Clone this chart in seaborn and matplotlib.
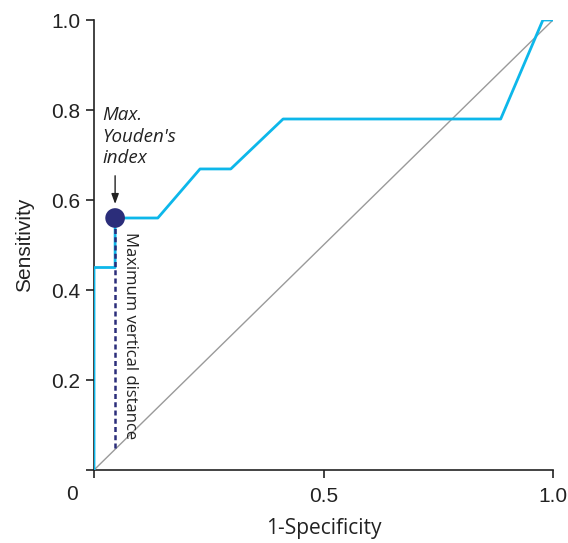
import matplotlib
matplotlib.use("Agg")
import matplotlib.pyplot as plt
import seaborn as sns
import pandas as pd

fpr = [0.0, 0.0, 0.046, 0.046, 0.139, 0.231, 0.298, 0.412, 0.886, 0.978, 1.0]
tpr = [0.0, 0.45, 0.45, 0.56, 0.56, 0.669, 0.669, 0.78, 0.78, 1.0, 1.0]
diag_x = [0.0, 1.0]
diag_y = [0.0, 1.0]
youden_x = [0.046]
youden_y = [0.56]
vdist_x = [0.046, 0.046]
vdist_y = [0.049, 0.56]
x_ticks = [0, 0.5, 1.0]
x_ticklabels = ["", "0.5", "1.0"]
y_ticks = [0, 0.2, 0.4, 0.6, 0.8, 1.0]
y_ticklabels = ["", "0.2", "0.4", "0.6", "0.8", "1.0"]

sns.set_style("white")
plt.rcParams["font.family"] = ["Liberation Sans", "DejaVu Sans"]

fig = plt.figure(figsize=(5.68, 5.43), dpi=100)
ax = fig.add_axes([94 / 568, 73 / 543, 459 / 568, 450 / 543])

roc = pd.DataFrame({"fpr": fpr, "tpr": tpr})
vd = pd.DataFrame({"x": vdist_x, "y": vdist_y})
sns.lineplot(x=diag_x, y=diag_y, ax=ax, color="#9a9a9a", lw=1.0, zorder=2,
             estimator=None)
sns.lineplot(data=roc, x="fpr", y="tpr", sort=False, estimator=None, ax=ax,
             color="#0db7ea", lw=2.0, zorder=3)
sns.lineplot(data=vd, x="x", y="y", sort=False, estimator=None, ax=ax,
             color="#2b2d7a", lw=1.8, linestyle=(0, (2.0, 1.3)), zorder=4)
sns.scatterplot(x=youden_x, y=youden_y, ax=ax, color="#2b2d7a", s=200,
                edgecolor="none", zorder=5)

ax.set_xlim(0, 1)
ax.set_ylim(0, 1)
ax.set_xticks(x_ticks)
ax.set_xticklabels(x_ticklabels)
ax.set_yticks(y_ticks)
ax.set_yticklabels(y_ticklabels)
ax.tick_params(axis="both", direction="out", length=6, width=1.2, color="#222222",
               labelsize=15, labelcolor="#222222", pad=4, bottom=True, left=True)
ax.tick_params(axis="x", pad=6)
for side in ["top", "right"]:
    ax.spines[side].set_visible(False)
for side in ["left", "bottom"]:
    ax.spines[side].set_color("#222222")
    ax.spines[side].set_linewidth(1.2)
ax.spines["bottom"].set_zorder(1)
ax.spines["left"].set_zorder(1)

ax.text(-0.048, -0.033, "0", transform=ax.transAxes, ha="center", va="top",
        fontsize=15, color="#222222")

ax.set_xlabel("1-Specificity", fontsize=15, color="#222222", labelpad=9,
              family=["Open Sans", "DejaVu Sans"])
ax.set_ylabel("Sensitivity", fontsize=15, color="#222222", labelpad=12)

ax.text(0.018, 0.808, "Max.\nYouden's\nindex", fontsize=13.5, style="italic",
        color="#222222", ha="left", va="top", linespacing=1.25,
        family=["Open Sans", "DejaVu Sans"])
ax.annotate("", xy=(0.046, 0.585), xytext=(0.046, 0.66),
            arrowprops=dict(arrowstyle="-|>,head_length=0.6,head_width=0.22",
                            color="#222222", lw=1.0))
ax.text(0.06, 0.53, "Maximum vertical distance", rotation=-90, fontsize=12,
        color="#222222", ha="left", va="top", family=["Open Sans", "DejaVu Sans"])

fig.savefig("out.png", dpi=100)
